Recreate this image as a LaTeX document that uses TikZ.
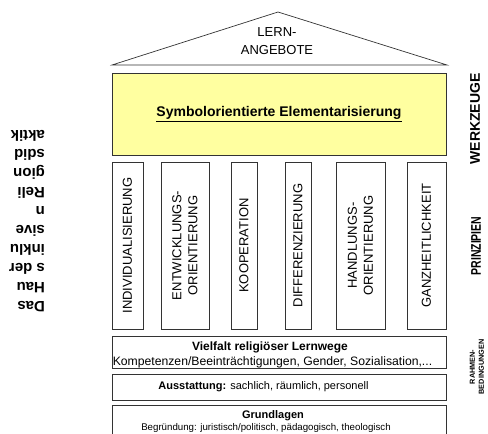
\documentclass[tikz,border=0pt]{standalone}
\usepackage{fontspec}
\usepackage{graphicx}
\setmainfont{Liberation Sans}
\begin{document}
\begin{tikzpicture}[x=1pt,y=-1pt,
  frame/.style={draw=black!80, line width=0.9pt},
  pillar/.style={frame, rotate=90, inner sep=0pt, align=center,
    font=\fontsize{13}{16}\selectfont},
  sidelabel/.style={rotate=90, font=\bfseries\fontsize{14}{16}\selectfont, inner sep=0pt},
  boxtext/.style={inner sep=0pt, anchor=center}
]
\useasboundingbox (0,0) rectangle (488,434);

% roof with the learning offers
\coordinate (roofL) at (112,65);
\coordinate (apex) at (278,12);
\coordinate (roofR) at (447,65);
\draw[frame, line width=0.7pt] (roofL) -- (apex) -- (roofR) -- cycle;
\node[align=center, inner sep=0pt, font=\fontsize{13}{18}\selectfont] (offers) at (277,41) {LERN-\\ANGEBOTE};

% beam: tools
\node[frame, fill={rgb,255:red,255;green,255;blue,160}, minimum width=334pt, minimum height=82pt, inner sep=0pt,
  font=\bfseries\fontsize{14}{16}\selectfont] (tools) at (279,114) {\underline{Symbolorientierte Elementarisierung}};

% pillars: principles
\node[pillar, minimum width=167pt, minimum height=31pt] (p1) at (127.5,245.5) {INDIVIDUALISIERUNG};
\node[pillar, minimum width=167pt, minimum height=48pt] (p2) at (185,245.5) {ENTWICKLUNGS-\\ORIENTIERUNG};
\node[pillar, minimum width=167pt, minimum height=26pt] (p3) at (244,245.5) {KOOPERATION};
\node[pillar, minimum width=167pt, minimum height=26pt] (p4) at (298,245.5) {DIFFERENZIERUNG};
\node[pillar, minimum width=167pt, minimum height=49pt] (p5) at (360.5,245.5) {HANDLUNGS-\\ORIENTIERUNG};
\node[pillar, minimum width=167pt, minimum height=39pt] (p6) at (426.5,245.5) {GANZHEITLICHKEIT};

% foundation layers
\node[frame, minimum width=334pt, minimum height=32pt, inner sep=0pt] (ways) at (279,352) {};
\node[frame, minimum width=334pt, minimum height=26pt, inner sep=0pt] (equip) at (279,387) {};
\node[frame, minimum width=334pt, minimum height=36pt, inner sep=0pt] (base) at (279,423) {};

\node[boxtext, font=\bfseries\fontsize{12}{14}\selectfont] (waysT) at (270,347) {Vielfalt religiöser Lernwege};
\node[boxtext, font=\fontsize{12.2}{14}\selectfont] (waysS) at (272.5,362) {Kompetenzen/Beeinträchtigungen, Gender, Sozialisation,...};
\node[boxtext, font=\fontsize{11}{13}\selectfont] (equipT) at (263.5,387) {\textbf{Ausstattung:} sachlich, räumlich, personell};
\node[boxtext, font=\bfseries\fontsize{11}{13}\selectfont] (baseT) at (273,416) {Grundlagen};
\node[boxtext, font=\fontsize{9.7}{11}\selectfont] (baseS) at (266,428) {Begründung: juristisch/politisch, pädagogisch, theologisch};

% labels on the right
\node[sidelabel] (lTools) at (475,119) {WERKZEUGE};
\node[sidelabel] (lPrinc) at (476,246) {\scalebox{0.75}[1]{PRINZIPIEN}};
\node[rotate=90, inner sep=0pt, align=center, font=\bfseries\fontsize{7.3}{9}\selectfont] (lFrame) at (477,367) {RAHMEN-\\BEDINGUNGEN};

% title on the left, turned upside down
\node[rotate=180, inner sep=0pt, align=left, font=\bfseries\fontsize{15}{19}\selectfont] (title) at (27,221.5)
  {Das\\Hau\\s der\\inklu\\sive\\n\\Reli\\gion\\sdid\\aktik};
\end{tikzpicture}
\end{document}
